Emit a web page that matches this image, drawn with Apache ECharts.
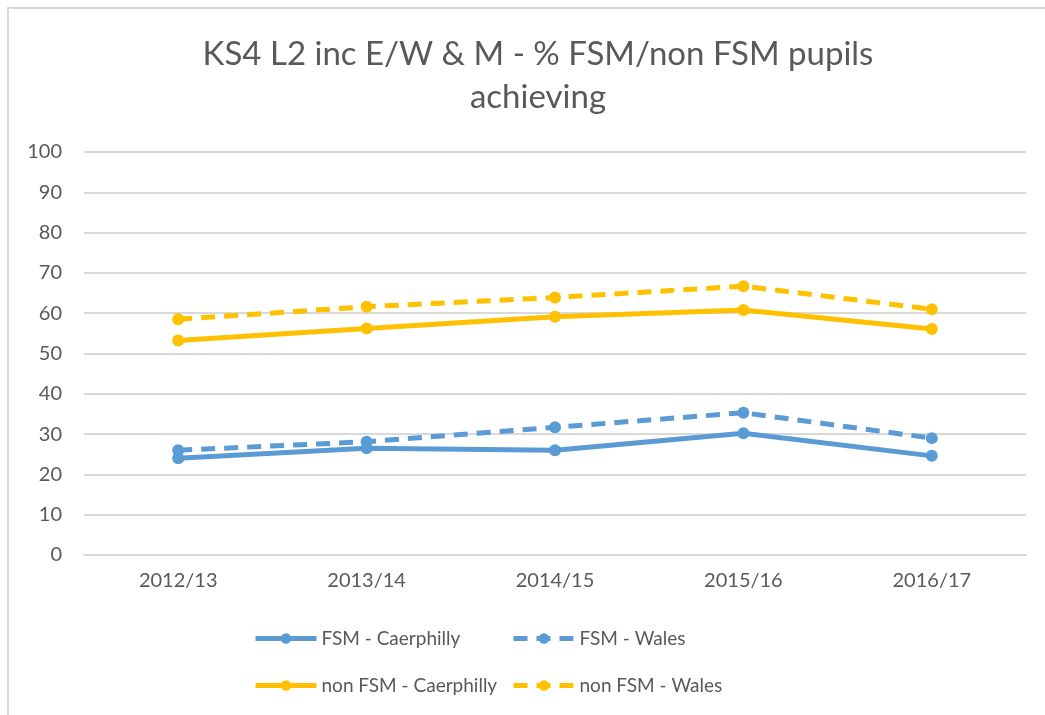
<!DOCTYPE html>
<html>
<head>
<meta charset="utf-8">
<script src="https://cdn.jsdelivr.net/npm/echarts@6/dist/echarts.min.js"></script>
<style>
  html, body { margin: 0; padding: 0; background: #fff; }
  #chart { width: 1045px; height: 715px; }
</style>
</head>
<body>
<div id="chart"></div>
<script>
// data
const years = ['2012/13', '2013/14', '2014/15', '2015/16', '2016/17'];
const fsmCaerphilly = [24.0, 26.5, 26.0, 30.2, 24.6];
const fsmWales = [26.0, 28.1, 31.7, 35.3, 29.0];
const nonFsmCaerphilly = [53.2, 56.2, 59.1, 60.8, 56.1];
const nonFsmWales = [58.5, 61.6, 63.9, 66.7, 61.0];
const yTicks = [0, 10, 20, 30, 40, 50, 60, 70, 80, 90, 100];

const FONT = 'Lato';
const TXT = '#595959';
const BLUE = '#5B9BD5';
const GOLD = '#FFC000';

const chart = echarts.init(document.getElementById('chart'));

// one line series
const mkSeries = (name, data, color, dashed) => ({
  name: name,
  type: 'line',
  data: data,
  symbol: 'circle',
  symbolSize: 12,
  itemStyle: { color: color },
  lineStyle: { color: color, width: 5, type: dashed ? [14, 9] : 'solid' },
  emphasis: { disabled: true },
  z: dashed ? 2 : 3
});

// one legend per item so the two columns line up like the original
const mkLegend = (name, left, top) => ({
  data: [name],
  left: left,
  top: top,
  itemWidth: 61,
  itemHeight: 13,
  itemGap: 10,
  selectedMode: false,
  lineStyle: { width: 5 },
  textStyle: { color: TXT, fontFamily: FONT, fontSize: 19 }
});

const option = {
  backgroundColor: '#fff',
  animation: false,
  graphic: [{
    type: 'rect',
    shape: { x: 8, y: 8, width: 1100, height: 800 },
    style: { fill: 'none', stroke: '#D9D9D9', lineWidth: 2 },
    silent: true
  }],
  title: {
    text: 'KS4 L2 inc E/W & M - % FSM/non FSM pupils\nachieving',
    left: 533,
    textAlign: 'center',
    top: 28,
    textStyle: {
      color: TXT,
      fontFamily: FONT,
      fontWeight: 'normal',
      fontSize: 33,
      lineHeight: 43
    }
  },
  legend: [
    mkLegend('FSM - Caerphilly', 248, 624),
    mkLegend('FSM - Wales', 506, 624),
    mkLegend('non FSM - Caerphilly', 248, 671),
    mkLegend('non FSM - Wales', 506, 671)
  ],
  grid: { left: 84, right: 19, top: 152, bottom: 160 },
  xAxis: {
    type: 'category',
    data: years,
    boundaryGap: true,
    axisLine: { lineStyle: { color: '#D9D9D9', width: 2 } },
    axisTick: { show: false },
    axisLabel: { color: TXT, fontFamily: FONT, fontSize: 20, margin: 16 }
  },
  yAxis: {
    type: 'value',
    min: yTicks[0],
    max: yTicks[yTicks.length - 1],
    interval: 10,
    axisLine: { show: false },
    axisTick: { show: false },
    axisLabel: { color: TXT, fontFamily: FONT, fontSize: 20, margin: 22 },
    splitLine: { lineStyle: { color: '#D9D9D9', width: 2 } }
  },
  series: [
    mkSeries('FSM - Caerphilly', fsmCaerphilly, BLUE, false),
    mkSeries('FSM - Wales', fsmWales, BLUE, true),
    mkSeries('non FSM - Caerphilly', nonFsmCaerphilly, GOLD, false),
    mkSeries('non FSM - Wales', nonFsmWales, GOLD, true)
  ]
};

chart.setOption(option);
</script>
</body>
</html>
